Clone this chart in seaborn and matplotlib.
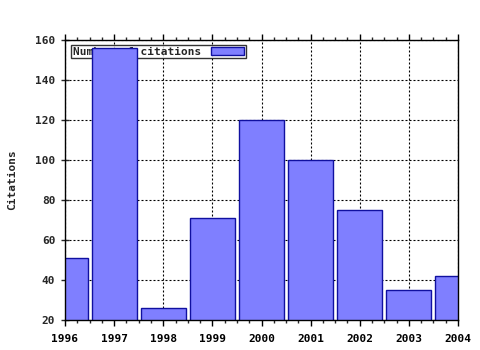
import matplotlib
matplotlib.use("Agg")
import matplotlib.pyplot as plt
import seaborn as sns
import pandas as pd
from matplotlib.ticker import AutoMinorLocator, MultipleLocator

years = ["1996", "1997", "1998", "1999", "2000", "2001", "2002", "2003", "2004"]
citations = [51, 156, 26, 71, 120, 100, 75, 35, 42]
series_name = "Number of citations"

df = pd.DataFrame({"year": years, "citations": citations, "series": series_name})

sns.set_style("white")
plt.rcParams["font.family"] = ["DejaVu Sans Mono"]
plt.rcParams["font.weight"] = "bold"

fig = plt.figure(figsize=(4.8, 3.5), dpi=100)
ax = fig.add_axes([65/480, 1 - 320/350, (458-65)/480, (320-40)/350])

sns.barplot(data=df, x="year", y="citations", hue="series", ax=ax,
            palette=["#7f7fff"], width=0.92,
            edgecolor="#1010a0", linewidth=1.0, saturation=1, zorder=3)

ax.set_xlim(0, 8)
ax.set_ylim(20, 160)
ax.yaxis.set_major_locator(MultipleLocator(20))
ax.xaxis.set_minor_locator(AutoMinorLocator(4))
ax.yaxis.set_minor_locator(AutoMinorLocator(2))
ax.grid(True, which="major", color="black", linestyle=(0, (1.8, 1.8)), linewidth=0.8, zorder=0)
ax.set_axisbelow(True)

for s in ax.spines.values():
    s.set_color("black")
    s.set_linewidth(1.0)
    s.set_zorder(5)

ax.tick_params(axis="x", which="major", direction="out", length=4, width=1,
               top=True, bottom=True, labelsize=8, pad=6, colors="black")
ax.tick_params(axis="x", which="minor", direction="out", length=2, width=1,
               top=True, bottom=True)
ax.tick_params(axis="y", which="major", direction="inout", length=6, width=1,
               left=True, right=False, labelsize=8, pad=4)
ax.tick_params(axis="y", which="minor", direction="inout", length=0, left=False)

ax.set_xlabel("")
ax.set_ylabel("Citations", fontsize=8, fontweight="bold", labelpad=13)

leg = ax.legend(loc="upper left", bbox_to_anchor=(0.01, 0.99), frameon=True, fancybox=False,
                markerfirst=False, fontsize=8, handlelength=3.0, handleheight=0.8,
                borderpad=0.15, handletextpad=0.9, borderaxespad=0.2)
leg.get_frame().set_edgecolor("black")
leg.get_frame().set_linewidth(1.0)
leg.set_zorder(2)
for t in leg.get_texts():
    t.set_fontweight("bold")

fig.savefig("out.png", dpi=100)
